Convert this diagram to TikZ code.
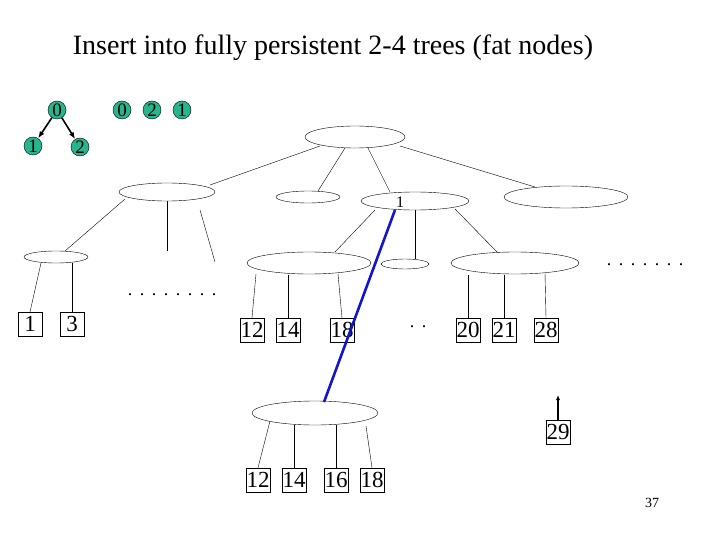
\documentclass[tikz,border=0pt]{standalone}
\usepackage{fontspec}
\setmainfont{Liberation Serif}
\usetikzlibrary{arrows.meta}
\definecolor{teal1}{RGB}{40,180,140}
\definecolor{blu}{RGB}{20,20,200}
\begin{document}
\begin{tikzpicture}[x=1pt,y=-1pt,
  circ/.style={circle,draw,fill=teal1,minimum size=18pt,inner sep=0pt,font=\fontsize{19}{19}\selectfont},
  bx/.style={draw,minimum size=24pt,inner sep=0pt,font=\fontsize{23}{23}\selectfont},
  el/.style={ellipse,draw,inner sep=0pt},
  dots/.style={font=\fontsize{18}{18}\selectfont}]
\useasboundingbox (0,0) rectangle (720,540);
\node at (333,48) {\fontsize{28}{28}\selectfont Insert into fully persistent 2-4 trees (fat nodes)};
\node[circ] (c0) at (57,110) {0};
\node[circ] (c1) at (33,146) {1};
\node[circ] (c2) at (80,147) {2};
\draw[-{Latex[length=7pt]},line width=1.6pt] (c0) -- (c1);
\draw[-{Latex[length=7pt]},line width=1.6pt] (c0) -- (c2);
\node[circ] (d0) at (122,110) {0};
\node[circ] (d2) at (152,110) {2};
\node[circ] (d1) at (182,110) {1};
% ellipses
\draw (355,137) ellipse [x radius=50,y radius=11];
\draw (167,192) ellipse [x radius=48,y radius=9];
\draw (308,197) ellipse [x radius=32,y radius=6];
\draw (415,201) ellipse [x radius=54,y radius=9];
\node at (400,202) {\fontsize{16}{16}\selectfont 1};
\draw (566,197) ellipse [x radius=62,y radius=11];
\draw (56,257) ellipse [x radius=32,y radius=6];
\draw (309,263) ellipse [x radius=62,y radius=11];
\draw (405,264) ellipse [x radius=24,y radius=5];
\draw (515,263) ellipse [x radius=64,y radius=11];
\draw (315,413) ellipse [x radius=63,y radius=12];
% edges
\draw (320,146) -- (210,185);
\draw (345,148) -- (318,191);
\draw (368,148) -- (390,192);
\draw (400,146) -- (535,187);
\draw (125,199) -- (65,251);
\draw (167,201) -- (167,251);
\draw (200,210) -- (215,262);
\draw (375,210) -- (335,252);
\draw (415,210) -- (415,259);
\draw (455,209) -- (497,252);
\draw (41,263) -- (30,312);
\draw (72,263) -- (72,312);
% boxes
\node[bx] (b1) at (30,324) {1};
\node[bx] (b3) at (72,324) {3};
\node[bx] (u12) at (252,330) {12};
\node[bx] (u14) at (288,330) {14};
\node[bx] (u18) at (342,330) {18};
\node[bx] (u20) at (468,330) {20};
\node[bx] (u21) at (504,330) {21};
\node[bx] (u28) at (546,330) {28};
\node[bx] (w12) at (258,480) {12};
\node[bx] (w14) at (294,480) {14};
\node[bx] (w16) at (336,480) {16};
\node[bx] (w18) at (372,480) {18};
\node[bx] (b29) at (558,432) {29};
\draw (256,274) -- (u12.north);
\draw (288,275) -- (u14.north);
\draw (338,274) -- (u18.north);
\draw (468,275) -- (u20.north);
\draw (504,275) -- (u21.north);
\draw (545,273) -- (u28.north);
\draw (270,421) -- (w12.north);
\draw (294,425) -- (w14.north);
\draw (336,425) -- (w16.north);
\draw (366,426) -- (w18.north);
\draw[-{Latex[length=5pt,width=4pt]},line width=1.2pt] (b29.north) -- (558,395);
\draw[blu,line width=2.6pt] (395,210) -- (324,402);
\foreach \i in {0,...,7} \node[dots] at (130+12*\i,295) {.};
\foreach \i in {0,...,6} \node[dots] at (609+12*\i,265) {.};
\node[dots] (dd1) at (412,327) {.};
\node[dots] (dd2) at (424,327) {.};
\node at (652,503) {\fontsize{14}{14}\selectfont 37};
\end{tikzpicture}
\end{document}
